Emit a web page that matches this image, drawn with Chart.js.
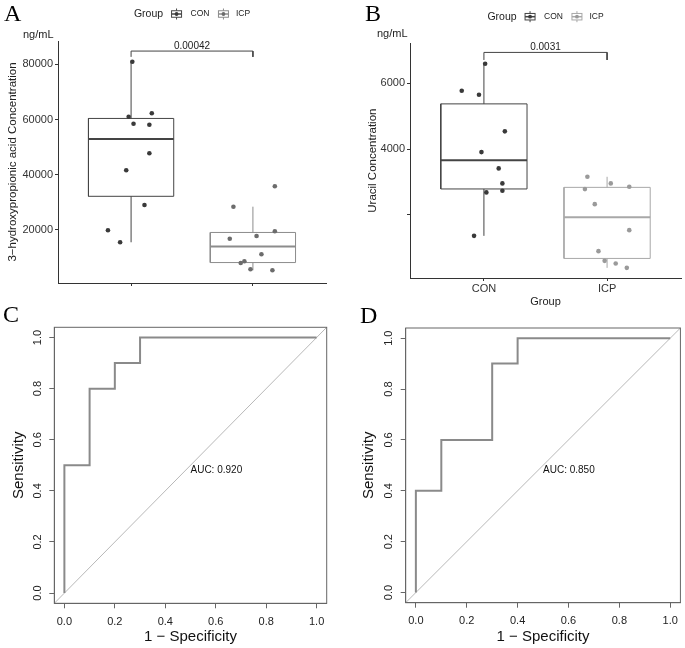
<!DOCTYPE html>
<html lang="en">
<head>
    <meta charset="UTF-8">
    <title>3-HPA and uracil: boxplots and ROC curves</title>
    <script src="https://cdn.jsdelivr.net/npm/chart.js@4"></script>
    <style>
        body { margin: 0; background: #fff; }
        #wrap { position: relative; width: 685px; height: 648px; }
        .panel { position: absolute; }
    </style>
</head>
<body>
<div id="wrap">
    <canvas class="panel" id="chartA" width="340" height="300" style="left:0;top:0"></canvas>
    <canvas class="panel" id="chartB" width="345" height="310" style="left:340px;top:0"></canvas>
    <canvas class="panel" id="chartC" width="340" height="348" style="left:0;top:300px"></canvas>
    <canvas class="panel" id="chartD" width="345" height="348" style="left:340px;top:300px"></canvas>
</div>

<script>
// ---- data ----
const groups = ['CON', 'ICP'];
const groupPos = [1, 2];

// A: 3-hydroxypropionic acid (ng/mL); x = jittered position of each dot
const hpaCON  = [80950, 61030, 62270, 58500, 58140, 47780, 41620, 29060, 19890, 15550];
const hpaCONx = [1.01, 0.98, 1.17, 1.02, 1.15, 1.15, 0.96, 1.11, 0.81, 0.91];
const hpaICP  = [35830, 28440, 16850, 17830, 19530, 11200, 8050, 8670, 5770, 5410];
const hpaICPx = [2.18, 1.84, 1.81, 2.03, 2.18, 2.07, 1.90, 1.93, 1.98, 2.16];
const hpaTicks = [20000, 40000, 60000, 80000];
const hpaTickLabels = ['20000', '40000', '60000', '80000'];
const hpaP = '0.00042';
const hpaBracket = [82700, 84800]; // tip, top

// B: uracil (ng/mL)
const uraCON  = [6597, 5776, 5654, 4541, 3911, 3415, 2959, 2685, 2734, 1365];
const uraCONx = [1.01, 0.82, 0.96, 1.17, 0.98, 1.12, 1.15, 1.02, 1.15, 0.92];
const uraICP  = [3160, 2959, 2856, 2786, 2329, 1539, 900, 605, 526, 392];
const uraICPx = [1.84, 2.03, 2.18, 1.82, 1.90, 2.18, 1.93, 1.98, 2.07, 2.16];
const uraTicks = [2000, 4000, 6000];
const uraTickLabels = ['', '4000', '6000']; // 2000 has no label in the original
const uraP = '0.0031';
const uraBracket = [6710, 6940];

// C / D: ROC curves (1 - specificity, sensitivity)
const rocTicks = [0, 0.2, 0.4, 0.6, 0.8, 1.0];
const fprC = [0, 0, 0.1, 0.1, 0.2, 0.2, 0.3, 0.3, 1];
const tprC = [0, 0.5, 0.5, 0.8, 0.8, 0.9, 0.9, 1, 1];
const aucC = 0.920;
const fprD = [0, 0, 0.1, 0.1, 0.3, 0.3, 0.4, 0.4, 1];
const tprD = [0, 0.4, 0.4, 0.6, 0.6, 0.9, 0.9, 1, 1];
const aucD = 0.850;
const rocMin = -0.04, rocMax = 1.04;

Chart.defaults.font.family = '"Liberation Sans", Arial, sans-serif';
Chart.defaults.color = '#222';

// R type-7 quantiles, ggplot-style whiskers
function quantile(s, p) {
    const h = (s.length - 1) * p, lo = Math.floor(h);
    const next = lo + 1 < s.length ? s[lo + 1] : s[lo];
    return s[lo] + (h - lo) * (next - s[lo]);
}
function boxStats(vals) {
    const s = [...vals].sort((a, b) => a - b);
    const q1 = quantile(s, 0.25), med = quantile(s, 0.5), q3 = quantile(s, 0.75);
    const iqr = q3 - q1;
    return {
        q1, med, q3,
        lo: Math.min(...s.filter(v => v >= q1 - 1.5 * iqr)),
        hi: Math.max(...s.filter(v => v <= q3 + 1.5 * iqr))
    };
}

function seg(pts, color, w) {
    return { data: pts, showLine: true, borderColor: color, borderWidth: w, pointRadius: 0, order: 1 };
}

function boxSets(vals, xs, pos, lineCol, ptCol) {
    const b = boxStats(vals), h = 0.35;
    return [
        { data: vals.map((v, i) => ({ x: xs[i], y: v })), showLine: false, pointRadius: 2.3,
          pointBackgroundColor: ptCol, pointBorderColor: ptCol, pointBorderWidth: 0, order: 0 },
        seg([{ x: pos - h, y: b.q1 }, { x: pos + h, y: b.q1 }, { x: pos + h, y: b.q3 },
             { x: pos - h, y: b.q3 }, { x: pos - h, y: b.q1 }], lineCol, 1),
        seg([{ x: pos - h, y: b.med }, { x: pos + h, y: b.med }], lineCol, 2),
        seg([{ x: pos, y: b.lo }, { x: pos, y: b.q1 }], lineCol, 1),
        seg([{ x: pos, y: b.q3 }, { x: pos, y: b.hi }], lineCol, 1)
    ];
}

function drawKey(ctx, x, cy, col, ptCol) {
    const k = 13, top = cy - k / 2;
    ctx.strokeStyle = col;
    ctx.lineWidth = 1;
    ctx.beginPath();
    ctx.moveTo(x + k / 2, top + 1); ctx.lineTo(x + k / 2, top + k - 1);
    ctx.stroke();
    ctx.fillStyle = '#fff';
    ctx.fillRect(x + 1.5, top + 3.25, k - 3, k - 6.5);
    ctx.strokeRect(x + 1.5, top + 3.25, k - 3, k - 6.5);
    ctx.lineWidth = 1.5;
    ctx.beginPath();
    ctx.moveTo(x + 1.5, cy); ctx.lineTo(x + k - 1.5, cy);
    ctx.stroke();
    ctx.fillStyle = ptCol;
    ctx.beginPath();
    ctx.arc(x + k / 2, cy, 1.9, 0, Math.PI * 2);
    ctx.fill();
    return k;
}

const annotPlugin = {
    id: 'annot',
    afterDraw(chart, args, o) {
        const ctx = chart.ctx, a = chart.chartArea;
        const xs = chart.scales.x, ys = chart.scales.y;
        ctx.save();
        if (o.frame) {
            ctx.strokeStyle = o.frame;
            ctx.lineWidth = 1;
            ctx.strokeRect(a.left, a.top, a.right - a.left, a.bottom - a.top);
        }
        // panel letter
        ctx.fillStyle = '#000';
        ctx.textAlign = 'left';
        ctx.textBaseline = 'alphabetic';
        ctx.font = '24px "Liberation Serif", "Times New Roman", serif';
        ctx.fillText(o.letter, o.letterX, o.letterY);

        ctx.textBaseline = 'middle';
        if (o.unit) {
            ctx.font = '11px "Liberation Sans", Arial, sans-serif';
            ctx.fillStyle = '#222';
            ctx.fillText('ng/mL', o.unit[0], o.unit[1]);
        }
        if (o.legend) {
            const lg = o.legend;
            const tFont = '10.5px "Liberation Sans", Arial, sans-serif';
            const lFont = '8.5px "Liberation Sans", Arial, sans-serif';
            ctx.font = tFont;
            const wT = ctx.measureText('Group').width;
            ctx.font = lFont;
            const wL = groups.map(g => ctx.measureText(g).width);
            const total = wT + 7 + 13 + 7.5 + wL[0] + 7.5 + 13 + 6 + wL[1];
            let x = (a.left + a.right) / 2 - total / 2;
            ctx.fillStyle = '#222';
            ctx.font = tFont;
            ctx.fillText('Group', x, lg.y);
            x += wT + 7;
            groups.forEach((g, i) => {
                x += drawKey(ctx, x, lg.y, lg.cols[i], lg.pts[i]) + (i === 0 ? 7.5 : 6);
                ctx.fillStyle = '#222';
                ctx.font = lFont;
                ctx.fillText(g, x, lg.y);
                x += wL[i] + 7.5;
            });
        }
        if (o.pval) {
            ctx.font = '10px "Liberation Sans", Arial, sans-serif';
            ctx.fillStyle = '#222';
            ctx.textAlign = 'center';
            ctx.fillText(o.pval.text, xs.getPixelForValue(1.5), ys.getPixelForValue(o.pval.y) - 5);
        }
        if (o.auc !== undefined) {
            ctx.font = '10px "Liberation Sans", Arial, sans-serif';
            ctx.fillStyle = '#111';
            ctx.textAlign = 'left';
            ctx.textBaseline = 'top';
            ctx.fillText('AUC: ' + o.auc.toFixed(3), xs.getPixelForValue(0.5), ys.getPixelForValue(0.5));
        }
        ctx.restore();
    }
};

function boxChart(id, c) {
    return new Chart(document.getElementById(id), {
        type: 'scatter',
        data: {
            datasets: [
                ...boxSets(c.con, c.conX, groupPos[0], c.cols[0], c.pts[0]),
                ...boxSets(c.icp, c.icpX, groupPos[1], c.cols[1], c.pts[1]),
                seg([{ x: 1, y: c.bracket[0] }, { x: 1, y: c.bracket[1] },
                     { x: 2, y: c.bracket[1] }, { x: 2, y: c.bracket[0] }], '#444', 1)
            ]
        },
        options: {
            responsive: false,
            animation: false,
            events: [],
            layout: { padding: { left: 0, top: c.top, right: c.right, bottom: 0 } },
            plugins: {
                legend: { display: false },
                tooltip: { enabled: false },
                annot: {
                    letter: c.letter, letterX: c.letterX, letterY: 21,
                    unit: c.unit,
                    legend: { y: c.legendY, cols: c.cols, pts: c.pts },
                    pval: { text: c.p, y: c.bracket[1] }
                }
            },
            scales: {
                x: {
                    type: 'linear', min: 0.4, max: 2.6,
                    afterBuildTicks: s => { s.ticks = groupPos.map(v => ({ value: v })); },
                    afterFit: s => { s.height = c.xh; },
                    ticks: { callback: (v, i) => c.xLabels ? c.xLabels[i] : '', padding: 1,
                             color: '#333', font: { size: 11 }, maxRotation: 0 },
                    grid: { drawOnChartArea: false, tickLength: 3, color: '#333' },
                    border: { color: '#333', width: 1 },
                    title: { display: !!c.xTitle, text: c.xTitle, color: '#222',
                             font: { size: 11 }, padding: { top: 0, bottom: 1 } }
                },
                y: {
                    min: c.yMin, max: c.yMax,
                    afterBuildTicks: s => { s.ticks = c.yTicks.map(v => ({ value: v })); },
                    afterFit: s => { s.width = c.yw; },
                    ticks: { callback: (v, i) => c.yLabels[i], padding: 2, color: '#333', font: { size: 11 } },
                    grid: { drawOnChartArea: false, tickLength: 3, color: '#333' },
                    border: { color: '#333', width: 1 },
                    title: { display: true, text: c.yTitle, color: '#222',
                             font: { size: 11.5 }, padding: { top: c.yTitlePad, bottom: 0 } }
                }
            }
        },
        plugins: [annotPlugin]
    });
}

function rocChart(id, fpr, tpr, auc, c) {
    const axisCol = '#666';
    return new Chart(document.getElementById(id), {
        type: 'scatter',
        data: {
            datasets: [
                { data: fpr.map((v, i) => ({ x: v, y: tpr[i] })), showLine: true,
                  borderColor: '#8a8a8a', borderWidth: 2, pointRadius: 0 },
                { data: [{ x: rocMin, y: rocMin }, { x: rocMax, y: rocMax }], showLine: true,
                  borderColor: '#b8b8b8', borderWidth: 1, pointRadius: 0 }
            ]
        },
        options: {
            responsive: false,
            animation: false,
            events: [],
            layout: { padding: { left: 0, top: c.top, right: c.right, bottom: 0 } },
            plugins: {
                legend: { display: false },
                tooltip: { enabled: false },
                annot: { letter: c.letter, letterX: c.letterX, letterY: c.letterY, frame: axisCol, auc: auc }
            },
            scales: {
                x: {
                    min: rocMin, max: rocMax,
                    afterBuildTicks: s => { s.ticks = rocTicks.map(v => ({ value: v })); },
                    afterFit: s => { s.height = c.xh; },
                    ticks: { callback: v => v.toFixed(1), padding: 7, color: '#222', font: { size: 11 }, maxRotation: 0 },
                    grid: { drawOnChartArea: false, tickLength: 5, color: axisCol },
                    border: { color: axisCol, width: 1 },
                    title: { display: true, text: '1 − Specificity', color: '#111',
                             font: { size: 15 }, padding: { top: 0, bottom: 2 } }
                },
                y: {
                    min: rocMin, max: rocMax,
                    afterBuildTicks: s => { s.ticks = rocTicks.map(v => ({ value: v })); },
                    afterFit: s => { s.width = c.yw; },
                    ticks: { callback: v => v.toFixed(1), padding: 4, color: '#222', font: { size: 11 },
                             minRotation: 90, maxRotation: 90, crossAlign: 'center' },
                    grid: { drawOnChartArea: false, tickLength: 5, color: axisCol },
                    border: { color: axisCol, width: 1 },
                    title: { display: true, text: 'Sensitivity', color: '#111',
                             font: { size: 15 }, padding: { top: c.yTitlePad, bottom: 0 } }
                }
            }
        },
        plugins: [annotPlugin]
    });
}

boxChart('chartA', {
    con: hpaCON, conX: hpaCONx, icp: hpaICP, icpX: hpaICPx,
    cols: ['#444444', '#8c8c8c'], pts: ['#3a3a3a', '#6c6c6c'],
    bracket: hpaBracket, p: hpaP,
    yMin: 800, yMax: 88450, yTicks: hpaTicks, yLabels: hpaTickLabels,
    yTitle: '3−hydroxypropionic acid Concentration', yTitlePad: 6,
    top: 41, right: 14, yw: 58, xh: 17,
    letter: 'A', letterX: 4, unit: [23, 35], legendY: 14
});

boxChart('chartB', {
    con: uraCON, conX: uraCONx, icp: uraICP, icpX: uraICPx,
    cols: ['#444444', '#a8a8a8'], pts: ['#3a3a3a', '#9a9a9a'],
    bracket: uraBracket, p: uraP,
    yMin: 84, yMax: 7217, yTicks: uraTicks, yLabels: uraTickLabels,
    yTitle: 'Uracil Concentration', yTitlePad: 26,
    xLabels: groups, xTitle: 'Group',
    top: 43.3, right: 3, yw: 70, xh: 32,
    letter: 'B', letterX: 25, unit: [37, 33.5], legendY: 16.7
});

rocChart('chartC', fprC, tprC, aucC, {
    top: 27.3, right: 13.3, yw: 54.3, xh: 44.7, yTitlePad: 10,
    letter: 'C', letterX: 3, letterY: 22
});

rocChart('chartD', fprD, tprD, aucD, {
    top: 28, right: 3.3, yw: 65.7, xh: 45.3, yTitlePad: 20,
    letter: 'D', letterX: 20, letterY: 23
});
</script>
</body>
</html>
